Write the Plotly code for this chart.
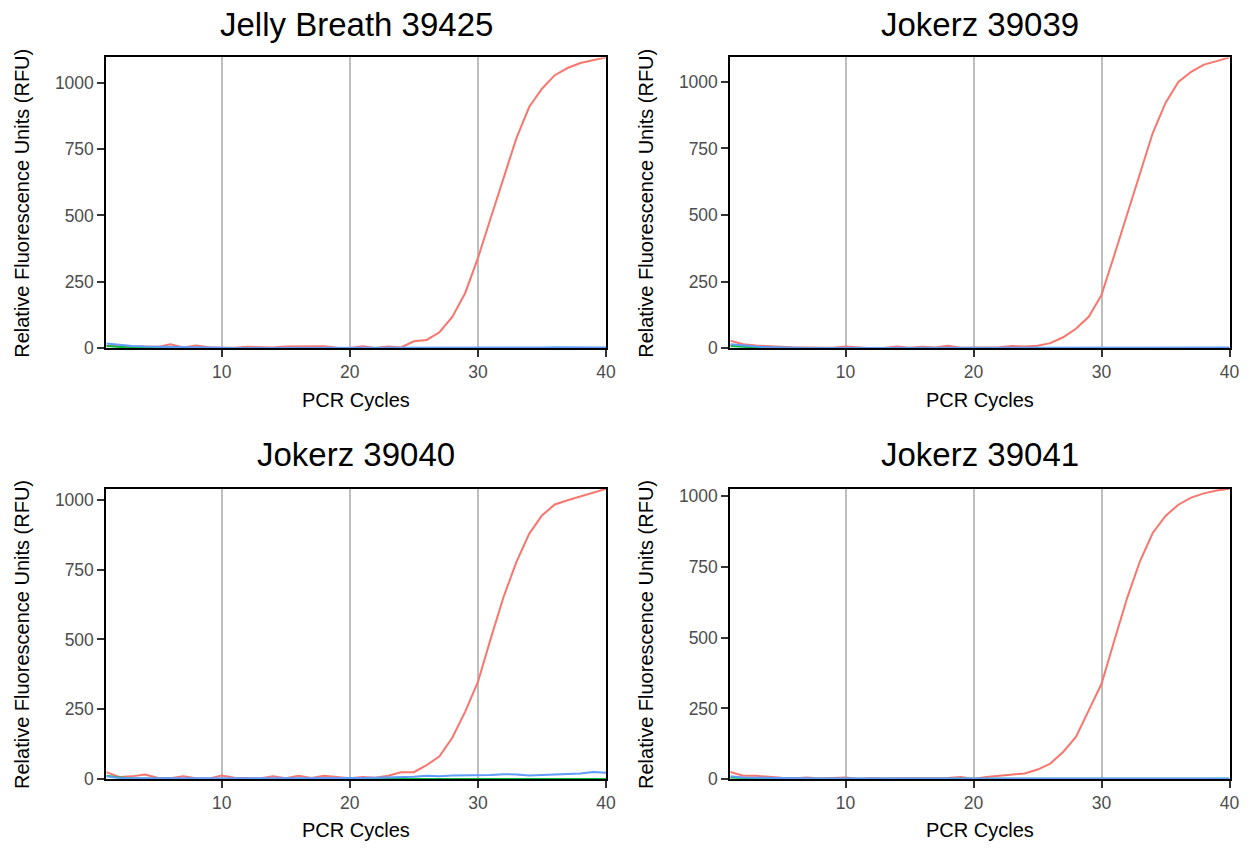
import plotly.graph_objects as go

cycles = list(range(1, 41))

# Panel titles
titles = ["Jelly Breath 39425", "Jokerz 39039", "Jokerz 39040", "Jokerz 39041"]

# Series values (RFU) per panel: red, green, blue channels
jb39425_red = [8, 7, 6, 7, 5, 15, 3, 10, 4, 2, 2, 5, 5, 3, 6, 6, 5, 7, 2, 1,
               7, 1, 6, 3, 26, 31, 60, 118, 207, 339, 490, 640, 790, 908, 977, 1028, 1055, 1074, 1084, 1095]
jb39425_green = [8, 4, 2, 1, 1, 1, 0, 0, 0, 0, 0, 0, 0, 0, 0, 0, 0, 0, 0, 0,
                 0, 0, 0, 0, 0, 0, 0, 0, 0, 0, 0, 0, 0, 0, 0, 0, 0, 0, 0, 0]
jb39425_blue = [18, 12, 8, 6, 5, 4, 3, 2, 2, 1, 1, 1, 1, 1, 1, 1, 1, 1, 1, 1,
                1, 1, 1, 1, 1, 1, 1, 1, 2, 3, 3, 3, 3, 3, 3, 4, 4, 4, 3, 3]

jk39039_red = [28, 15, 10, 7, 5, 3, 3, 2, 2, 6, 3, 0, 1, 6, 2, 5, 3, 9, 2, 3,
               5, 4, 8, 6, 9, 19, 41, 73, 118, 200, 350, 505, 660, 808, 921, 1000, 1038, 1065, 1078, 1092]
jk39039_green = [8, 5, 3, 2, 1, 1, 0, 0, 0, 0, 0, 0, 0, 0, 0, 0, 0, 0, 0, 0,
                 0, 0, 0, 0, 0, 0, 0, 0, 1, 1, 1, 1, 1, 1, 1, 1, 1, 1, 1, 1]
jk39039_blue = [15, 10, 6, 4, 2, 2, 1, 1, 1, 1, 1, 1, 1, 1, 1, 1, 1, 1, 1, 1,
                1, 1, 1, 2, 2, 2, 1, 1, 1, 1, 1, 1, 2, 2, 2, 3, 3, 3, 3, 3]

jk39040_red = [25, 8, 10, 17, 5, 3, 10, 3, 2, 13, 5, 3, 2, 10, 3, 12, 4, 12, 8, 3,
               8, 5, 12, 25, 25, 50, 82, 148, 241, 348, 503, 652, 777, 878, 944, 983, 998, 1012, 1025, 1039]
jk39040_green = [12, 6, 3, 2, 1, 1, 1, 1, 1, 1, 1, 1, 1, 1, 1, 1, 1, 1, 1, 1,
                 1, 1, 1, 1, 1, 1, 1, 1, 1, 1, 1, 1, 1, 1, 1, 1, 1, 1, 1, 1]
jk39040_blue = [10, 4, 3, 3, 2, 2, 2, 2, 2, 3, 3, 2, 2, 3, 3, 3, 3, 3, 4, 4,
                4, 5, 6, 8, 9, 12, 10, 13, 13, 14, 15, 18, 17, 13, 15, 16, 18, 20, 26, 23]

jk39041_red = [25, 12, 12, 8, 5, 3, 6, 2, 3, 6, 1, 3, 2, 2, 3, 3, 2, 4, 8, 1,
               8, 12, 15, 20, 34, 55, 96, 149, 243, 337, 490, 640, 770, 870, 930, 970, 995, 1010, 1020, 1026]
jk39041_green = [6, 4, 2, 1, 1, 1, 0, 0, 0, 0, 0, 0, 0, 0, 0, 0, 0, 0, 0, 0,
                 0, 0, 0, 0, 0, 0, 0, 0, 1, 1, 1, 1, 1, 1, 1, 1, 1, 1, 1, 1]
jk39041_blue = [10, 6, 5, 4, 3, 2, 2, 2, 2, 2, 2, 2, 2, 2, 2, 2, 2, 2, 2, 2,
                2, 2, 2, 2, 2, 2, 2, 2, 2, 2, 2, 2, 2, 2, 2, 2, 2, 2, 2, 2]

panels = [
    (jb39425_red, jb39425_green, jb39425_blue),
    (jk39039_red, jk39039_green, jk39039_blue),
    (jk39040_red, jk39040_green, jk39040_blue),
    (jk39041_red, jk39041_green, jk39041_blue),
]

x_ticks = [10, 20, 30, 40]
y_ticks = [0, 250, 500, 750, 1000]
colors = ["#F8766D", "#00BA38", "#619CFF"]

W, H = 1255, 848
# effective drawing area observed in the browser (page margin offset)
OFF, EW, EH = 8, 1247, 838


def fx(px):
    return (px - OFF) / EW


def fy(py):
    return 1 - (py - OFF) / EH


# pixel boxes of plot areas: (left, right, top, bottom)
boxes = [(106.5, 607, 55.5, 347), (731.5, 1231.5, 55.5, 347),
         (106.5, 607, 488, 779), (731.5, 1231.5, 488, 779)]
ytitle_x = [22, 647, 22, 647]
xtitle_y = [399, 399, 830, 830]
title_y = [23, 23, 454, 454]

fig = go.Figure()
font_family = "Liberation Sans, Arial, sans-serif"

for i, (series, box) in enumerate(zip(panels, boxes)):
    n = i + 1
    xa = "x" if n == 1 else f"x{n}"
    ya = "y" if n == 1 else f"y{n}"
    for vals, col in zip(series, colors):
        fig.add_trace(go.Scatter(x=cycles, y=vals, mode="lines",
                                 line=dict(color=col, width=2),
                                 xaxis=xa, yaxis=ya, showlegend=False,
                                 hoverinfo="skip"))
    l, r, t, b = box
    ymax = max(max(s) for s in series)
    xkey = "xaxis" if n == 1 else f"xaxis{n}"
    ykey = "yaxis" if n == 1 else f"yaxis{n}"
    fig.update_layout(**{
        xkey: dict(domain=[fx(l), fx(r)], anchor=ya, range=[1, 40],
                   tickvals=x_ticks, showgrid=True, gridcolor="#BEBEBE",
                   gridwidth=2, zeroline=False, showline=True, mirror=True,
                   linecolor="black", linewidth=2, ticks="outside",
                   ticklen=7, tickwidth=1.5, tickcolor="#333333",
                   tickfont=dict(size=17.5, color="#4D4D4D", family=font_family)),
        ykey: dict(domain=[fy(b), fy(t)], anchor=xa, range=[0, ymax],
                   tickvals=y_ticks, showgrid=False, zeroline=False,
                   showline=True, mirror=True, linecolor="black", linewidth=2,
                   ticks="outside", ticklen=7, tickwidth=1.5, tickcolor="#333333",
                   tickfont=dict(size=17.5, color="#4D4D4D", family=font_family)),
    })
    fig.add_annotation(text=titles[i], xref="paper", yref="paper",
                       x=fx((l + r) / 2), y=fy(title_y[i]),
                       xanchor="center", yanchor="middle", showarrow=False,
                       font=dict(size=33, color="black", family=font_family))
    fig.add_annotation(text="PCR Cycles", xref="paper", yref="paper",
                       x=fx((l + r) / 2), y=fy(xtitle_y[i]),
                       xanchor="center", yanchor="middle", showarrow=False,
                       font=dict(size=20, color="black", family=font_family))
    fig.add_annotation(text="Relative Fluorescence Units (RFU)", xref="paper",
                       yref="paper", x=fx(ytitle_x[i]), y=fy((t + b) / 2),
                       xanchor="center", yanchor="middle", textangle=-90,
                       showarrow=False,
                       font=dict(size=20, color="black", family=font_family))

fig.update_layout(width=W, height=H, margin=dict(l=0, r=0, t=0, b=0),
                  paper_bgcolor="white", plot_bgcolor="white",
                  font=dict(family=font_family))

fig.write_html("out.html", config={"displayModeBar": False})
